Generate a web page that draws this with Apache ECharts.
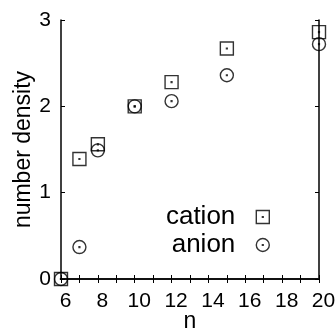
<!DOCTYPE html>
<html>
<head>
<meta charset="utf-8">
<style>
  html, body { margin: 0; padding: 0; background: #fff; }
  #chart { width: 336px; height: 329px; }
</style>
<script src="https://cdn.jsdelivr.net/npm/echarts@6/dist/echarts.min.js"></script>
</head>
<body>
<div id="chart"></div>
<script>
// values
const nValues = [6, 7, 8, 10, 12, 15, 20];
const cation = [0, 1.39, 1.56, 2.0, 2.28, 2.67, 2.86];
const anion = [0, 0.37, 1.49, 2.0, 2.06, 2.36, 2.72];

const xTicks = { min: 6, max: 20, interval: 2 };
const yTicks = { min: 0, max: 3, interval: 1 };

const font = "'Liberation Sans', Arial, sans-serif";

// open symbols with a dot in the middle (gnuplot style)
const squareDot = "path://M0,0H13V13H0Z M6.1,6.1H6.9V6.9H6.1Z";
const circleDot = "path://M13,6.5A6.5,6.5,0,1,1,0,6.5A6.5,6.5,0,1,1,13,6.5Z M6.1,6.1H6.9V6.9H6.1Z";

const pointStyle = { color: "transparent", borderColor: "#000", borderWidth: 1.4 };

const chart = echarts.init(document.getElementById("chart"), null, { renderer: "canvas" });

const tickInside = { show: true, inside: true, length: 4, lineStyle: { color: "#000", width: 1 } };
const minorInside = { show: true, splitNumber: 2, length: 4, lineStyle: { color: "#000", width: 1 } };

chart.setOption({
  animation: false,
  grid: { left: 61, right: 17, top: 20, bottom: 50, show: false, outerBoundsMode: "none" },
  legend: {
    orient: "vertical",
    align: "right",
    right: 66,
    top: 204,
    padding: 0,
    itemWidth: 45,
    itemHeight: 13,
    itemGap: 2,
    textStyle: { fontFamily: font, fontSize: 26, color: "#000", lineHeight: 26 },
    itemStyle: { borderColor: "#000", borderWidth: 1.4, color: "transparent" },
    data: ["cation", "anion"],
  },
  xAxis: [
    {
      type: "value",
      min: xTicks.min,
      max: xTicks.max,
      interval: xTicks.interval,
      name: "n",
      nameLocation: "middle",
      nameGap: 31,
      nameMoveOverlap: false,
      nameTextStyle: { fontFamily: font, fontSize: 23, color: "#000" },
      axisLine: { show: true, lineStyle: { color: "#444", width: 2 } },
      axisTick: tickInside,
      minorTick: minorInside,
      axisLabel: { fontFamily: font, fontSize: 21, color: "#000", margin: 12, padding: [0, 0, 0, 9] },
      splitLine: { show: false },
    },
    {
      type: "value",
      position: "top",
      min: xTicks.min,
      max: xTicks.max,
      interval: xTicks.interval,
      axisLine: { show: true, lineStyle: { color: "#000", width: 1.5 } },
      axisTick: tickInside,
      minorTick: minorInside,
      axisLabel: { show: false },
      splitLine: { show: false },
    },
  ],
  yAxis: [
    {
      type: "value",
      min: yTicks.min,
      max: yTicks.max,
      interval: yTicks.interval,
      name: "number density",
      nameLocation: "middle",
      nameGap: 26,
      nameMoveOverlap: false,
      nameTextStyle: { fontFamily: font, fontSize: 23, color: "#000" },
      axisLine: { show: true, lineStyle: { color: "#000", width: 1.5 } },
      axisTick: tickInside,
      axisLabel: { fontFamily: font, fontSize: 21, color: "#000", margin: 10 },
      splitLine: { show: false },
    },
    {
      type: "value",
      position: "right",
      min: yTicks.min,
      max: yTicks.max,
      interval: yTicks.interval,
      axisLine: { show: true, lineStyle: { color: "#000", width: 1.5 } },
      axisTick: tickInside,
      axisLabel: { show: false },
      splitLine: { show: false },
    },
  ],
  series: [
    {
      name: "cation",
      type: "scatter",
      symbol: squareDot,
      symbolSize: 13,
      symbolKeepAspect: true,
      clip: false,
      itemStyle: pointStyle,
      data: nValues.map((n, i) => [n, cation[i]]),
    },
    {
      name: "anion",
      type: "scatter",
      symbol: circleDot,
      symbolSize: 13,
      symbolKeepAspect: true,
      clip: false,
      itemStyle: pointStyle,
      data: nValues.map((n, i) => [n, anion[i]]),
    },
  ],
});
</script>
</body>
</html>
